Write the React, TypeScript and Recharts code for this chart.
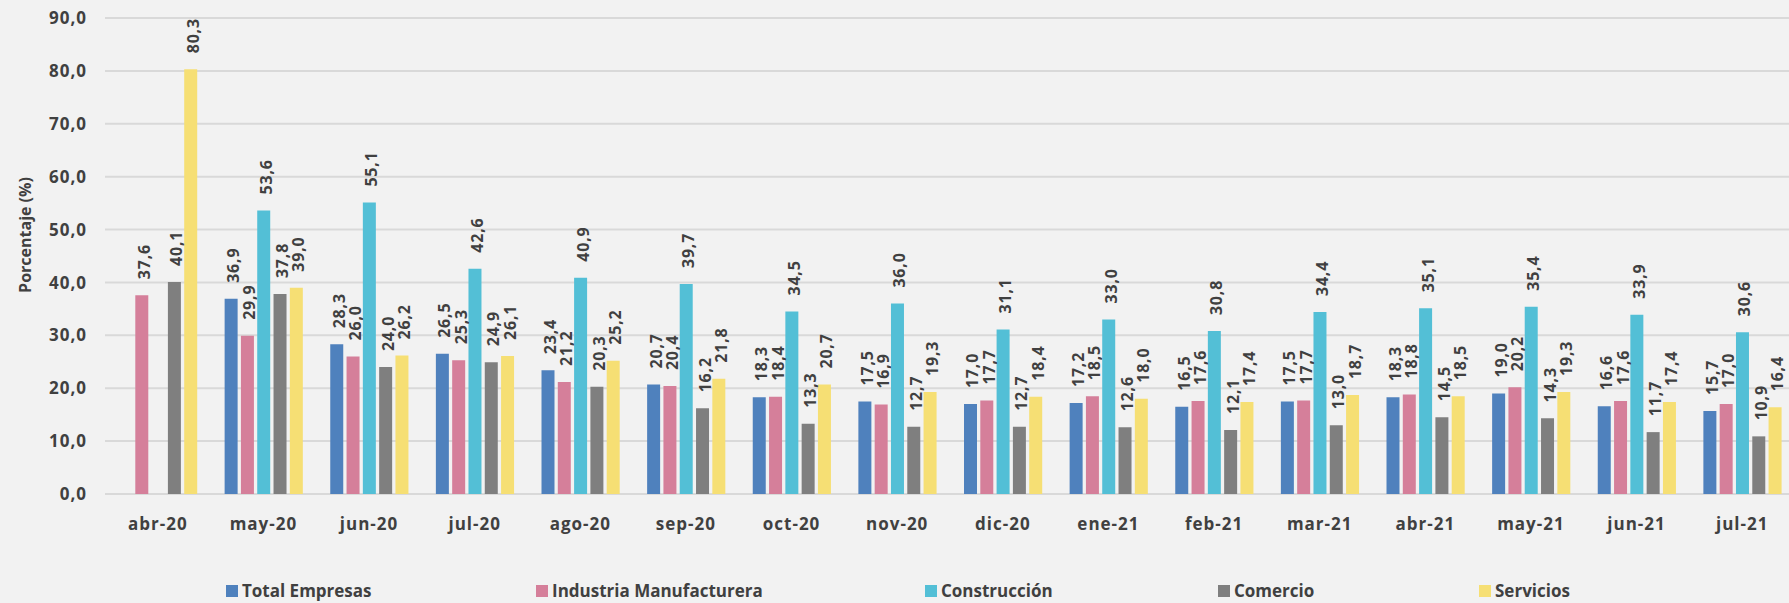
import React from 'react';
import { BarChart, Bar, XAxis, YAxis, CartesianGrid, Legend, LabelList } from 'recharts';

const categories = ['abr-20', 'may-20', 'jun-20', 'jul-20', 'ago-20', 'sep-20', 'oct-20', 'nov-20', 'dic-20', 'ene-21', 'feb-21', 'mar-21', 'abr-21', 'may-21', 'jun-21', 'jul-21'];
const totalEmpresas = [null, 36.9, 28.3, 26.5, 23.4, 20.7, 18.3, 17.5, 17.0, 17.2, 16.5, 17.5, 18.3, 19.0, 16.6, 15.7];
const industriaManufacturera = [37.6, 29.9, 26.0, 25.3, 21.2, 20.4, 18.4, 16.9, 17.7, 18.5, 17.6, 17.7, 18.8, 20.2, 17.6, 17.0];
const construccion = [null, 53.6, 55.1, 42.6, 40.9, 39.7, 34.5, 36.0, 31.1, 33.0, 30.8, 34.4, 35.1, 35.4, 33.9, 30.6];
const comercio = [40.1, 37.8, 24.0, 24.9, 20.3, 16.2, 13.3, 12.7, 12.7, 12.6, 12.1, 13.0, 14.5, 14.3, 11.7, 10.9];
const servicios = [80.3, 39.0, 26.2, 26.1, 25.2, 21.8, 20.7, 19.3, 18.4, 18.0, 17.4, 18.7, 18.5, 19.3, 17.4, 16.4];
const yTicks = [0, 10, 20, 30, 40, 50, 60, 70, 80, 90];

const series = [
  { key: 'total', name: 'Total Empresas', color: '#4f81bd' },
  { key: 'industria', name: 'Industria Manufacturera', color: '#d57f9a' },
  { key: 'construccion', name: 'Construcción', color: '#53bfd6' },
  { key: 'comercio', name: 'Comercio', color: '#7f7f7f' },
  { key: 'servicios', name: 'Servicios', color: '#f6df74' },
];

const data = categories.map((c, i) => ({
  cat: c,
  total: totalEmpresas[i],
  industria: industriaManufacturera[i],
  construccion: construccion[i],
  comercio: comercio[i],
  servicios: servicios[i],
}));

const FONT = '"Open Sans", "Noto Sans", sans-serif';
const TEXT = '#404040';
const fmt = (v: number) => v.toFixed(1).replace('.', ',');

const renderLabel = (props: any) => {
  const { x, y, width, value } = props;
  if (value == null) return null;
  const cx = Number(x) + Number(width) / 2 + 2;
  const ty = Number(y) - 16;
  return (
    <text
      x={cx}
      y={ty}
      transform={`rotate(-90, ${cx}, ${ty})`}
      textAnchor="start"
      dominantBaseline="central"
      fontSize={16}
      fontWeight={700}
      letterSpacing={0.8}
      fill={TEXT}
      fontFamily={FONT}
    >
      {fmt(Number(value))}
    </text>
  );
};

const YTick = (p: any) => (
  <text x={p.x} y={p.y} dy="0.36em" textAnchor="end" fontSize={17} fontWeight={700} letterSpacing={1} fill={TEXT} fontFamily={FONT}>
    {fmt(Number(p.payload.value))}
  </text>
);

const XTick = (p: any) => (
  <text x={p.x} y={p.y + 36} textAnchor="middle" fontSize={17} fontWeight={700} letterSpacing={1} fill={TEXT} fontFamily={FONT}>
    {p.payload.value}
  </text>
);

const legendLefts = [226, 536, 925, 1218, 1479];

const LegendContent = () => (
  <div style={{ position: 'relative', width: 1789, height: 18 }}>
    {series.map((s, i) => (
      <div
        key={s.key}
        style={{
          position: 'absolute',
          left: legendLefts[i],
          top: 0,
          height: 18,
          display: 'flex',
          alignItems: 'center',
          whiteSpace: 'nowrap',
        }}
      >
        <span style={{ display: 'inline-block', width: 12, height: 12, background: s.color, marginRight: 4 }} />
        <span style={{ fontFamily: FONT, fontWeight: 700, fontSize: 17, color: TEXT, lineHeight: '18px' }}>{s.name}</span>
      </div>
    ))}
  </div>
);

export default function App() {
  return (
    <div style={{ position: 'fixed', left: 0, top: 0, width: 1789, height: 603, overflow: 'hidden', background: '#f2f2f2' }}>
      <BarChart
        width={1800}
        height={603}
        data={data}
        margin={{ top: 18, right: 5, left: 0, bottom: 69 }}
        barSize={13}
        barGap={3.3}
      >
        <CartesianGrid vertical={false} stroke="#d9d9d9" strokeWidth={2} />
        <XAxis dataKey="cat" axisLine={false} tickLine={false} tickSize={0} tickMargin={0} height={40} tick={<XTick />} interval={0} />
        <YAxis
          domain={[0, 90]}
          ticks={yTicks}
          axisLine={false}
          tickLine={false}
          tickSize={0}
          tickMargin={18}
          width={105}
          tick={<YTick />}
          label={() => (
            <text
              x={25}
              y={235}
              transform="rotate(-90, 25, 235)"
              textAnchor="middle"
              dominantBaseline="central"
              fontSize={16}
              fontWeight={700}
              fill={TEXT}
              fontFamily={FONT}
            >
              Porcentaje (%)
            </text>
          )}
        />
        <Legend
          layout="horizontal"
          verticalAlign="middle"
          align="center"
          content={<LegendContent />}
          wrapperStyle={{ position: 'absolute', left: 0, top: 582, width: 1789, height: 18 }}
        />
        {series.map((s) => (
          <Bar key={s.key} dataKey={s.key} name={s.name} fill={s.color} isAnimationActive={false}>
            <LabelList dataKey={s.key} content={renderLabel} />
          </Bar>
        ))}
      </BarChart>
    </div>
  );
}
